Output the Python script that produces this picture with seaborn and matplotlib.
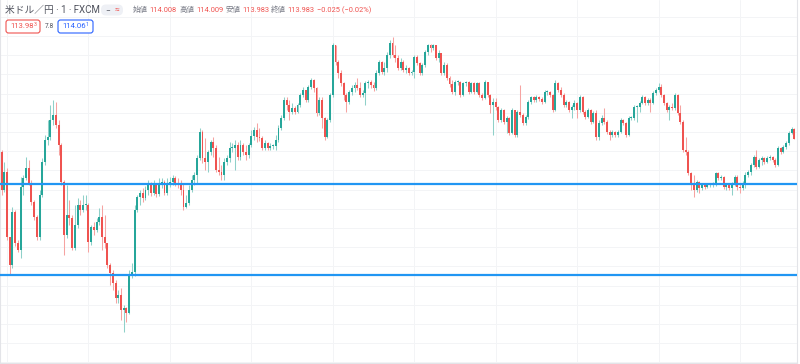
import numpy as np
import matplotlib
matplotlib.use('Agg')
import matplotlib.pyplot as plt
import seaborn as sns
from matplotlib.patches import FancyBboxPatch

# 米ドル／円 1分足 (FXCM)
first_open = 113.950
closes = [
    113.855, 113.900, 113.738, 113.668, 113.800, 113.723, 113.705, 113.863, 113.885, 113.910,
    113.873, 113.825, 113.788, 113.738, 113.843, 113.925, 113.980, 113.988, 114.030, 114.043,
    114.018, 113.968, 113.875, 113.743, 113.793, 113.785, 113.710, 113.768, 113.818, 113.805,
    113.818, 113.818, 113.725, 113.763, 113.755, 113.775, 113.788, 113.738, 113.723, 113.668,
    113.648, 113.623, 113.585, 113.593, 113.555, 113.560, 113.548, 113.643, 113.650, 113.805,
    113.838, 113.848, 113.835, 113.855, 113.873, 113.848, 113.870, 113.845, 113.873, 113.875,
    113.848, 113.873, 113.875, 113.885, 113.873, 113.868, 113.855, 113.813, 113.823, 113.855,
    113.880, 113.893, 113.935, 114.000, 113.935, 113.925, 113.950, 113.975, 113.960, 113.905,
    113.900, 113.893, 113.925, 113.935, 113.960, 113.960, 113.968, 113.938, 113.968, 113.950,
    113.943, 113.968, 113.990, 114.005, 113.988, 113.985, 113.960, 113.973, 113.960, 113.965,
    113.965, 113.980, 114.010, 114.035, 114.080, 114.068, 114.050, 114.060, 114.050, 114.068,
    114.093, 114.105, 114.080, 114.113, 114.130, 114.110, 114.048, 114.080, 114.035, 113.988,
    114.030, 114.093, 114.218, 114.175, 114.148, 114.123, 114.093, 114.075, 114.100, 114.110,
    114.118, 114.110, 114.093, 114.098, 114.123, 114.125, 114.118, 114.110, 114.148, 114.175,
    114.150, 114.160, 114.193, 114.223, 114.193, 114.185, 114.160, 114.175, 114.155, 114.160,
    114.148, 114.150, 114.188, 114.173, 114.148, 114.168, 114.200, 114.218, 114.210, 114.218,
    114.185, 114.198, 114.148, 114.168, 114.135, 114.120, 114.100, 114.125, 114.125, 114.093,
    114.123, 114.125, 114.100, 114.123, 114.100, 114.123, 114.093, 114.085, 114.125, 114.093,
    114.068, 114.075, 114.063, 114.030, 114.055, 114.025, 114.035, 113.998, 114.055, 113.993,
    114.050, 114.043, 114.023, 114.038, 114.075, 114.088, 114.080, 114.088, 114.083, 114.075,
    114.100, 114.100, 114.093, 114.055, 114.123, 114.105, 114.093, 114.068, 114.075, 114.055,
    114.063, 114.073, 114.055, 114.088, 114.050, 114.038, 114.055, 114.025, 114.048, 113.988,
    114.023, 114.035, 114.025, 114.000, 113.993, 114.000, 113.993, 114.000, 114.030, 114.023,
    113.993, 114.035, 114.035, 114.063, 114.063, 114.073, 114.088, 114.073, 114.080, 114.073,
    114.098, 114.105, 114.113, 114.093, 114.073, 114.055, 114.063, 114.060, 114.093, 114.048,
    114.025, 113.955, 113.950, 113.898, 113.868, 113.855, 113.875, 113.860, 113.868, 113.863,
    113.868, 113.868, 113.870, 113.898, 113.885, 113.888, 113.863, 113.868, 113.860, 113.870,
    113.888, 113.863, 113.860, 113.873, 113.893, 113.900, 113.918, 113.938, 113.913, 113.930,
    113.935, 113.925, 113.935, 113.938, 113.930, 113.918, 113.960, 113.950, 113.963, 113.973,
    113.998, 114.008, 113.983,
]
highs = [
    113.955, 113.925, 113.910, 113.738, 113.813, 113.805, 113.730, 113.888, 113.893, 113.938,
    113.930, 113.880, 113.830, 113.793, 113.855, 113.935, 113.993, 114.030, 114.068, 114.080,
    114.075, 114.030, 113.973, 113.880, 113.868, 113.830, 113.793, 113.818, 113.835, 113.830,
    113.843, 113.843, 113.823, 113.768, 113.775, 113.785, 113.810, 113.818, 113.793, 113.723,
    113.673, 113.655, 113.630, 113.605, 113.610, 113.568, 113.563, 113.655, 113.673, 113.818,
    113.843, 113.855, 113.860, 113.865, 113.880, 113.875, 113.880, 113.873, 113.885, 113.885,
    113.880, 113.885, 113.888, 113.893, 113.890, 113.885, 113.880, 113.873, 113.843, 113.868,
    113.893, 113.900, 113.943, 114.010, 114.005, 113.985, 113.955, 113.980, 113.988, 113.968,
    113.938, 113.918, 113.935, 113.943, 113.975, 113.973, 113.980, 113.975, 113.980, 113.973,
    113.968, 113.973, 114.005, 114.013, 114.023, 114.010, 113.990, 113.980, 113.975, 113.973,
    113.970, 113.993, 114.018, 114.043, 114.088, 114.088, 114.080, 114.073, 114.065, 114.073,
    114.098, 114.113, 114.105, 114.118, 114.135, 114.133, 114.113, 114.088, 114.088, 114.038,
    114.035, 114.098, 114.223, 114.218, 114.180, 114.155, 114.125, 114.098, 114.105, 114.118,
    114.125, 114.135, 114.125, 114.105, 114.128, 114.130, 114.130, 114.125, 114.155, 114.180,
    114.178, 114.175, 114.200, 114.230, 114.238, 114.218, 114.193, 114.185, 114.180, 114.168,
    114.163, 114.155, 114.193, 114.193, 114.175, 114.173, 114.205, 114.220, 114.220, 114.220,
    114.218, 114.205, 114.193, 114.175, 114.173, 114.140, 114.130, 114.130, 114.130, 114.128,
    114.125, 114.128, 114.128, 114.125, 114.125, 114.125, 114.125, 114.098, 114.130, 114.125,
    114.095, 114.085, 114.085, 114.065, 114.060, 114.058, 114.040, 114.038, 114.060, 114.055,
    114.055, 114.118, 114.048, 114.043, 114.080, 114.090, 114.090, 114.093, 114.090, 114.088,
    114.105, 114.105, 114.103, 114.095, 114.130, 114.125, 114.113, 114.098, 114.080, 114.078,
    114.068, 114.080, 114.075, 114.093, 114.090, 114.055, 114.060, 114.058, 114.053, 114.055,
    114.030, 114.043, 114.060, 114.030, 114.005, 114.005, 114.003, 114.005, 114.035, 114.033,
    114.025, 114.040, 114.040, 114.068, 114.068, 114.078, 114.093, 114.090, 114.085, 114.085,
    114.103, 114.110, 114.123, 114.120, 114.095, 114.075, 114.068, 114.073, 114.098, 114.095,
    114.068, 114.030, 113.988, 113.955, 113.900, 113.893, 113.880, 113.878, 113.873, 113.873,
    113.873, 113.873, 113.875, 113.900, 113.900, 113.893, 113.890, 113.873, 113.873, 113.875,
    113.893, 113.893, 113.873, 113.878, 113.900, 113.905, 113.923, 113.943, 113.955, 113.935,
    113.940, 113.938, 113.940, 113.943, 113.940, 113.935, 113.965, 113.963, 113.968, 113.978,
    114.003, 114.013, 114.009,
]
lows = [
    113.843, 113.850, 113.730, 113.643, 113.660, 113.715, 113.700, 113.685, 113.843, 113.880,
    113.868, 113.818, 113.780, 113.730, 113.730, 113.838, 113.918, 113.968, 113.980, 114.018,
    114.010, 113.943, 113.868, 113.693, 113.735, 113.768, 113.705, 113.705, 113.760, 113.793,
    113.800, 113.805, 113.700, 113.718, 113.743, 113.750, 113.768, 113.705, 113.710, 113.660,
    113.618, 113.605, 113.573, 113.573, 113.530, 113.500, 113.525, 113.545, 113.635, 113.640,
    113.800, 113.818, 113.825, 113.830, 113.843, 113.840, 113.843, 113.838, 113.840, 113.860,
    113.843, 113.843, 113.863, 113.868, 113.865, 113.860, 113.843, 113.805, 113.810, 113.818,
    113.850, 113.868, 113.873, 113.930, 113.923, 113.905, 113.900, 113.943, 113.938, 113.900,
    113.893, 113.880, 113.880, 113.918, 113.925, 113.950, 113.905, 113.930, 113.930, 113.943,
    113.930, 113.935, 113.963, 113.980, 113.975, 113.978, 113.955, 113.955, 113.955, 113.955,
    113.958, 113.955, 113.975, 114.005, 114.030, 114.055, 114.030, 114.045, 114.045, 114.048,
    114.063, 114.088, 114.075, 114.075, 114.108, 114.100, 114.040, 114.043, 114.010, 113.980,
    113.985, 114.025, 114.088, 114.168, 114.135, 114.115, 114.080, 114.050, 114.070, 114.093,
    114.100, 114.105, 114.088, 114.088, 114.068, 114.110, 114.110, 114.103, 114.105, 114.143,
    114.145, 114.143, 114.150, 114.185, 114.188, 114.175, 114.155, 114.155, 114.150, 114.148,
    114.143, 114.143, 114.135, 114.168, 114.143, 114.143, 114.163, 114.193, 114.200, 114.205,
    114.180, 114.175, 114.143, 114.143, 114.130, 114.113, 114.095, 114.093, 114.118, 114.088,
    114.090, 114.115, 114.095, 114.098, 114.095, 114.098, 114.088, 114.080, 114.083, 114.088,
    114.048, 113.993, 114.055, 114.025, 114.025, 114.020, 113.998, 113.993, 113.995, 113.988,
    113.988, 114.038, 114.018, 114.018, 114.033, 114.070, 114.075, 114.075, 114.078, 114.070,
    114.073, 114.093, 114.088, 114.050, 114.053, 114.100, 114.088, 114.063, 114.063, 114.050,
    114.035, 114.055, 114.035, 114.050, 114.045, 114.033, 114.035, 114.020, 114.023, 113.980,
    113.980, 114.018, 114.020, 113.995, 113.980, 113.988, 113.988, 113.988, 113.998, 114.018,
    113.988, 113.990, 114.030, 114.030, 114.025, 114.050, 114.070, 114.068, 114.068, 114.050,
    114.070, 114.093, 114.100, 114.088, 114.068, 114.050, 114.030, 114.055, 114.055, 114.043,
    114.020, 113.950, 113.943, 113.893, 113.855, 113.838, 113.850, 113.848, 113.855, 113.858,
    113.860, 113.863, 113.863, 113.865, 113.880, 113.880, 113.858, 113.855, 113.855, 113.843,
    113.865, 113.855, 113.848, 113.855, 113.860, 113.888, 113.893, 113.913, 113.908, 113.910,
    113.918, 113.920, 113.923, 113.930, 113.925, 113.913, 113.915, 113.945, 113.948, 113.958,
    113.968, 113.995, 113.983,
]
level_lines = [113.870, 113.643]

header_title = '米ドル／円 · 1 · FXCM'
ohlc_labels = ['始値', '高値', '安値', '終値']
ohlc_values = ['114.008', '114.009', '113.983', '113.983']
change_text = '−0.025 (−0.02%)'
sell_price, spread, buy_price = '113.983', '7.8', '114.061'

UP, DOWN = '#26a69a', '#ef5350'
UP_WICK, DOWN_WICK = '#8fd0c9', '#f6a3a1'

sns.set_style('white')
plt.rcParams['font.family'] = ['Roboto', 'Noto Sans CJK JP', 'DejaVu Sans']

c = np.array(closes)
o = np.r_[first_open, c[:-1]]
h = np.array(highs)
l = np.array(lows)
x = np.arange(len(c))
up = c >= o

fig = plt.figure(figsize=(8, 3.64), dpi=100)
ax = fig.add_axes([0, 1 / 364, 797 / 800, 363 / 364])

ax.vlines(x, l, h, colors=np.where(up, UP_WICK, DOWN_WICK), lw=0.75, zorder=2)
ax.bar(x, np.maximum(np.abs(c - o), 0.0018), bottom=np.minimum(o, c), width=0.72,
       color=np.where(up, UP, DOWN), linewidth=0, zorder=3)
for lv in level_lines:
    ax.axhline(lv, color='#2196f3', lw=1.6, zorder=4)

ax.set_xlim(-0.59, 293.0)
ax.set_ylim(114.330 - 0.0025 * 363, 114.330)
ax.set_xticks(np.arange(2, 293, 30))
ax.set_yticks(114.0 + 0.048 * np.arange(-12, 7))
ax.tick_params(length=0, labelbottom=False, labelleft=False)
ax.grid(True, color='#f3f4f6', lw=0.7)
ax.set_axisbelow(True)
sns.despine(ax=ax, top=True, right=False, left=False, bottom=False)
for s in ['right', 'bottom', 'left']:
    ax.spines[s].set_color('#e3e4e8')
    ax.spines[s].set_linewidth(0.8)

# header overlay in pixel coordinates
hd = fig.add_axes([0, 0, 1, 1])
hd.set_xlim(0, 800)
hd.set_ylim(364, 0)
hd.axis('off')
hd.patch.set_alpha(0)

hd.text(5, 10, header_title, fontsize=7.0, color='#50535e', va='center', ha='left')
hd.add_patch(FancyBboxPatch((101, 4.5), 22, 11, boxstyle='round,pad=0,rounding_size=5',
                            fc='#eef0f5', ec='none'))
hd.text(107.5, 10, '−', fontsize=6, color='#50535e', va='center', ha='center')
hd.text(116.5, 10, '≈', fontsize=6, color=DOWN, va='center', ha='center')

lab_x = [133, 180, 226, 271]
for lx, lab, val in zip(lab_x, ohlc_labels, ohlc_values):
    hd.text(lx, 10, lab, fontsize=5.4, color='#787b86', va='center', ha='left')
    hd.text(lx + 16, 10, val, fontsize=5.4, color=DOWN, va='center', ha='left')
hd.text(317, 10, change_text, fontsize=5.4, color=DOWN, va='center', ha='left')

hd.add_patch(FancyBboxPatch((6, 20), 34, 13, boxstyle='round,pad=0,rounding_size=2.5',
                            fc='white', ec=DOWN, lw=0.8))
hd.text(10, 26.5, sell_price[:-1], fontsize=5.6, color=DOWN, va='center', ha='left')
hd.text(34, 24, sell_price[-1], fontsize=3.8, color=DOWN, va='center', ha='left')
hd.text(45, 26.5, spread, fontsize=4.8, color='#50535e', va='center', ha='left')
hd.add_patch(FancyBboxPatch((58, 20), 35, 13, boxstyle='round,pad=0,rounding_size=2.5',
                            fc='white', ec='#2962ff', lw=0.8))
hd.text(62, 26.5, buy_price[:-1], fontsize=5.6, color='#2962ff', va='center', ha='left')
hd.text(86, 24, buy_price[-1], fontsize=3.8, color='#2962ff', va='center', ha='left')

fig.savefig('out.png', dpi=100, facecolor='white')
